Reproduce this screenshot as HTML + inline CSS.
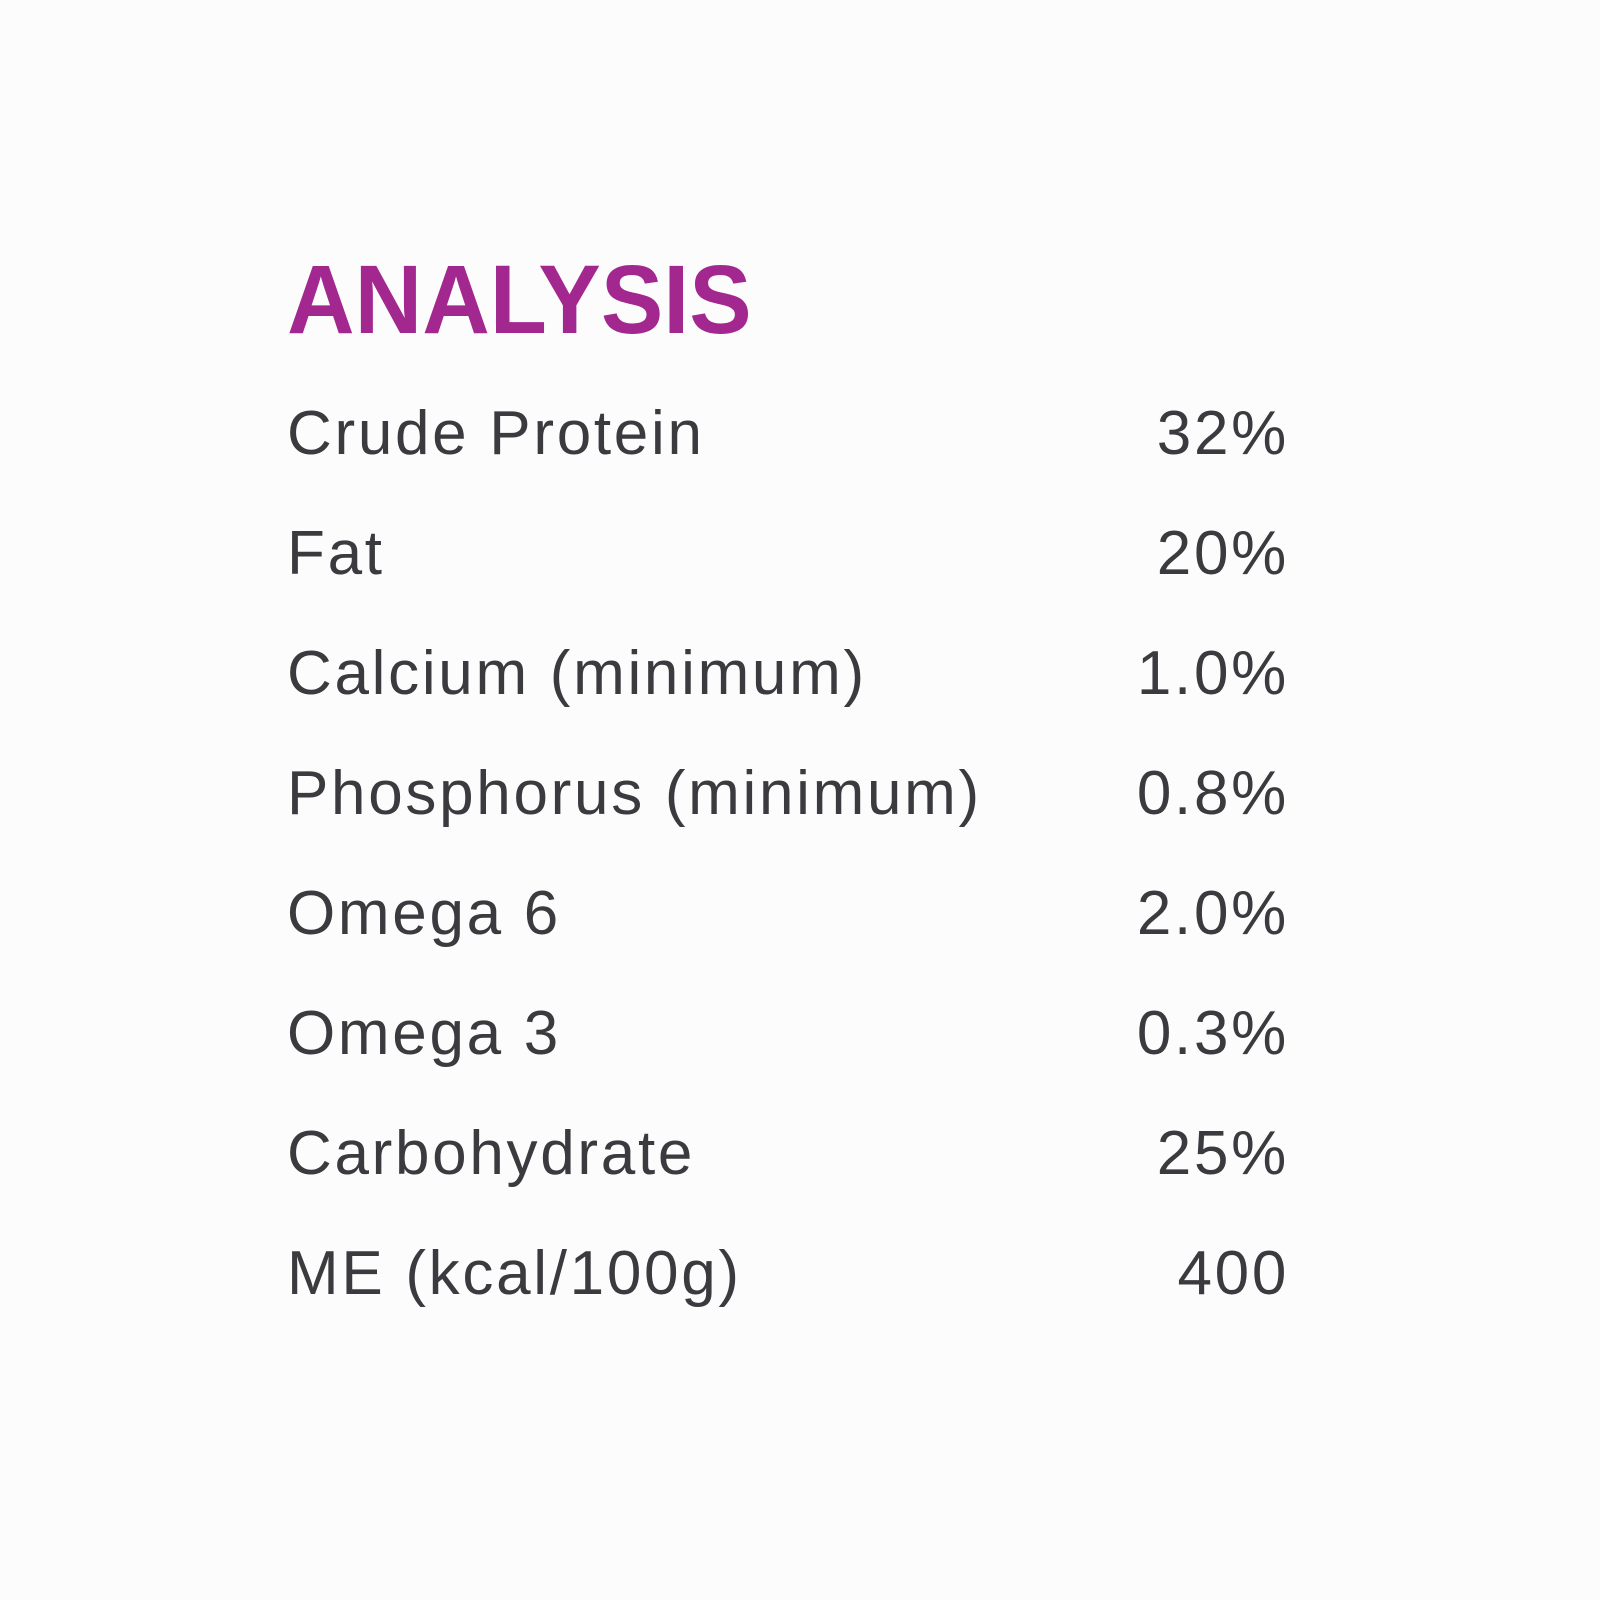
<!DOCTYPE html>
<html><head><style>
html,body{margin:0;padding:0;width:1600px;height:1600px;background:#fdfcfd;overflow:hidden}
body{position:relative;font-family:"Liberation Sans",sans-serif}
.t{position:absolute;left:287px;top:251px;font-size:97px;font-weight:bold;color:#a2288f;line-height:1;transform:scaleX(0.965);transform-origin:0 0;white-space:nowrap}
.r{position:absolute;left:287px;width:1002px;font-size:62px;color:#3b3a3f;line-height:1;letter-spacing:2.7px}
.r span{position:absolute;right:0;top:0;white-space:nowrap}
.r b{font-weight:normal;white-space:nowrap}
</style></head><body>
<div class="t">ANALYSIS</div>
<div class="r" style="top:403px"><b>Crude Protein</b><span>32%</span></div>
<div class="r" style="top:523px"><b>Fat</b><span>20%</span></div>
<div class="r" style="top:643px"><b>Calcium (minimum)</b><span>1.0%</span></div>
<div class="r" style="top:763px"><b>Phosphorus (minimum)</b><span>0.8%</span></div>
<div class="r" style="top:883px"><b>Omega 6</b><span>2.0%</span></div>
<div class="r" style="top:1003px"><b>Omega 3</b><span>0.3%</span></div>
<div class="r" style="top:1123px"><b>Carbohydrate</b><span>25%</span></div>
<div class="r" style="top:1243px"><b>ME (kcal/100g)</b><span>400</span></div>
</body></html>
